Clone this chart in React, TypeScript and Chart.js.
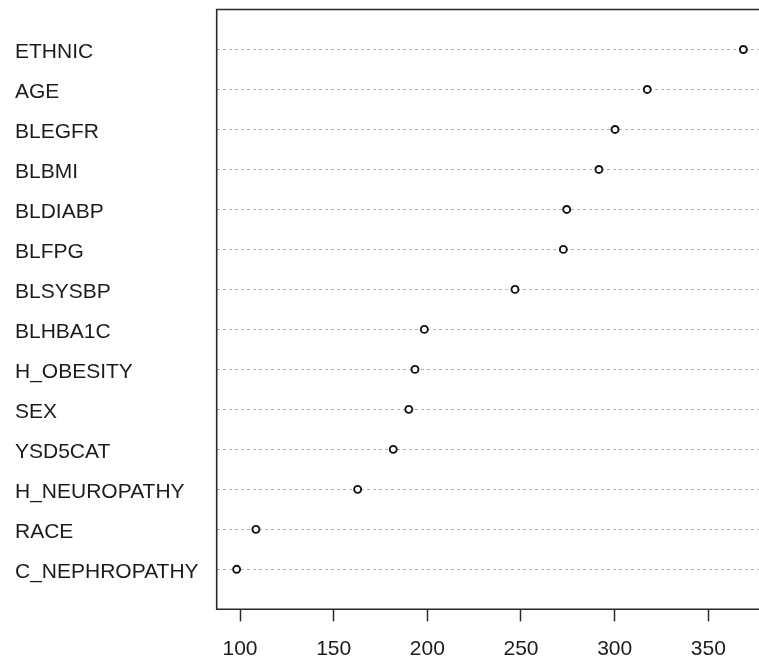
import { useEffect, useRef } from "react";
import { Chart, registerables } from "chart.js";

Chart.register(...registerables);

// Variable importance, listed from top row to bottom row
const variables = [
  "ETHNIC",
  "AGE",
  "BLEGFR",
  "BLBMI",
  "BLDIABP",
  "BLFPG",
  "BLSYSBP",
  "BLHBA1C",
  "H_OBESITY",
  "SEX",
  "YSD5CAT",
  "H_NEUROPATHY",
  "RACE",
  "C_NEPHROPATHY",
];
const importance = [
  368.7, 317.4, 300.2, 291.6, 274.4, 272.6, 246.8, 198.4, 193.4, 190.1, 181.8,
  162.8, 108.5, 98.2,
];
const xTickValues = [100, 150, 200, 250, 300, 350];
const xMin = 87.56;
const xMax = 377.05;

const FONT = "'Liberation Sans', Arial, Helvetica, sans-serif";
const TEXT = "#1c1c1c";
const FRAME = "#2a2a2a";

// rows run from n (top) down to 1 (bottom), as in a dot chart
const rowOf = (i: number) => variables.length - i;

// box around the plot: left, top and bottom edges
const framePlugin = {
  id: "frame",
  beforeDatasetsDraw(chart: any) {
    const { ctx, chartArea: a } = chart;
    ctx.save();
    ctx.strokeStyle = FRAME;
    ctx.lineWidth = 1.6;
    ctx.beginPath();
    ctx.moveTo(a.right + 4, a.top);
    ctx.lineTo(a.left, a.top);
    ctx.lineTo(a.left, a.bottom);
    ctx.lineTo(a.right + 4, a.bottom);
    ctx.stroke();
    ctx.restore();
  },
};

export default function App() {
  const canvasRef = useRef<HTMLCanvasElement | null>(null);

  useEffect(() => {
    const canvas = canvasRef.current;
    if (!canvas) return;
    const chart = new Chart(canvas, {
      type: "scatter",
      data: {
        datasets: [
          {
            data: importance.map((v, i) => ({ x: v, y: rowOf(i) })),
            pointStyle: "circle",
            pointRadius: 3.5,
            pointBorderWidth: 1.9,
            borderColor: "#111111",
            backgroundColor: "#ffffff",
          },
        ],
      },
      options: {
        responsive: false,
        animation: false,
        events: [],
        layout: {
          autoPadding: false,
          padding: { left: 15, top: 9.5, right: 0, bottom: 0 },
        },
        plugins: {
          legend: { display: false },
          tooltip: { enabled: false },
        },
        scales: {
          x: {
            type: "linear",
            min: xMin,
            max: xMax,
            afterBuildTicks: (scale: any) => {
              scale.ticks = xTickValues.map((v) => ({ value: v }));
            },
            afterFit: (scale: any) => {
              scale.height = 47.7;
              scale.paddingLeft = 0;
              scale.paddingRight = 0;
            },
            border: { display: false },
            grid: {
              drawOnChartArea: false,
              drawTicks: true,
              tickLength: 12,
              tickColor: FRAME,
              tickWidth: 1.5,
            },
            ticks: {
              padding: 15,
              color: TEXT,
              font: { family: FONT, size: 21 },
              callback: (v: any) => String(v),
            },
          },
          y: {
            type: "linear",
            min: 0,
            max: variables.length + 1,
            afterBuildTicks: (scale: any) => {
              scale.ticks = variables.map((_, i) => ({ value: rowOf(i) }));
            },
            afterFit: (scale: any) => {
              scale.width = 201.7;
              scale.paddingTop = 0;
              scale.paddingBottom = 0;
            },
            border: { display: false, dash: [3, 3] },
            grid: {
              drawTicks: false,
              color: "#b4b4b4",
              lineWidth: 1,
            },
            ticks: {
              crossAlign: "far",
              padding: 0,
              labelOffset: 3,
              color: TEXT,
              font: { family: FONT, size: 21 },
              callback: (v: any) => {
                const idx = variables.length - Number(v);
                return variables[idx] ?? "";
              },
            },
          },
        },
      },
      plugins: [framePlugin],
    });
    return () => chart.destroy();
  }, []);

  return (
    <div
      style={{
        position: "fixed",
        left: 0,
        top: 0,
        width: 759,
        height: 657,
        background: "#ffffff",
      }}
    >
      <canvas
        ref={canvasRef}
        width={759}
        height={657}
        style={{ display: "block", width: 759, height: 657 }}
      />
    </div>
  );
}
